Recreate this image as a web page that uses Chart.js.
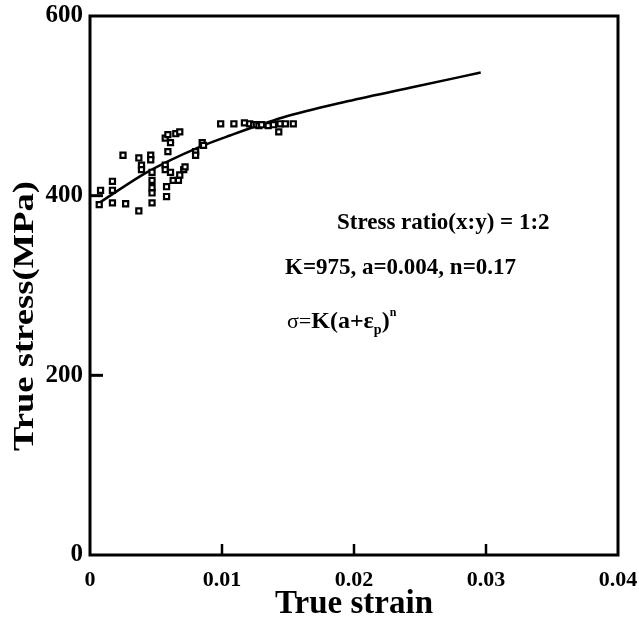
<!DOCTYPE html>
<html>
<head>
<meta charset="utf-8">
<script src="https://cdn.jsdelivr.net/npm/chart.js@4/dist/chart.umd.min.js"></script>
<style>
  html, body { margin: 0; padding: 0; background: #fff; }
  #wrap { width: 639px; height: 624px; }
</style>
</head>
<body>
<div id="wrap"><canvas id="flowChart" width="639" height="624"></canvas></div>
<script>
// measured points (true strain / true stress, MPa)
const strainPts = [
    0.0007, 0.0008, 0.0017, 0.0017, 0.0017, 0.0025, 0.0027, 0.0037, 0.0037, 0.0039,
    0.0039, 0.0046, 0.0046, 0.0047, 0.0047, 0.0047, 0.0047, 0.0047, 0.0057, 0.0057,
    0.0058, 0.0058, 0.0057, 0.0059, 0.0061, 0.0059, 0.0065, 0.0068, 0.0061, 0.0063,
    0.0067, 0.0068, 0.0071, 0.0072, 0.0080, 0.0080, 0.0085, 0.0086, 0.0099, 0.0109,
    0.0117, 0.0121, 0.0124, 0.0126, 0.0128, 0.0130, 0.0135, 0.0139, 0.0143, 0.0144,
    0.0148, 0.0154
];
const stressPts = [
    390, 406, 416, 406, 392, 445, 391, 383, 442, 434,
    429, 445, 440, 426, 417, 409, 403, 392, 434, 429,
    410, 399, 464, 468, 459, 449, 469, 471, 426, 417,
    417, 423, 429, 432, 449, 445, 459, 456, 480, 480,
    481, 480, 479, 479, 478, 479, 478, 479, 471, 480,
    480, 480
];

// fitted hardening curve, sigma = K(a + eps_p)^n
const strainFit = [0.0007, 0.0043, 0.0081, 0.0106, 0.0146, 0.0195, 0.0245, 0.0296];
const stressFit = [392, 426, 453, 467, 487, 505, 521, 537];

const strainTicks = [0, 0.01, 0.02, 0.03, 0.04];
const stressTicks = [0, 200, 400, 600];

const serif = "'Liberation Serif', 'Times New Roman', serif";

// frame, inward tick marks, y title and the fit parameters
const framePlugin = {
    id: "frame",
    afterDatasetsDraw(chart) {
        const { ctx, chartArea: a, scales } = chart;
        ctx.save();
        ctx.strokeStyle = "#000";
        ctx.lineWidth = 3;
        ctx.strokeRect(a.left, a.top, a.right - a.left, a.bottom - a.top);

        ctx.lineWidth = 3;
        stressTicks.slice(1, -1).forEach(v => {
            const y = scales.y.getPixelForValue(v);
            ctx.beginPath();
            ctx.moveTo(a.left, y);
            ctx.lineTo(a.left + 13, y);
            ctx.stroke();
        });
        ctx.lineWidth = 2.5;
        strainTicks.slice(1, -1).forEach(v => {
            const x = scales.x.getPixelForValue(v);
            ctx.beginPath();
            ctx.moveTo(x, a.bottom);
            ctx.lineTo(x, a.bottom - 11);
            ctx.stroke();
        });

        ctx.fillStyle = "#000";
        ctx.textBaseline = "middle";

        // y axis title, a little stretched along its length
        ctx.save();
        ctx.translate(25, a.top + 300);
        ctx.rotate(-Math.PI / 2);
        ctx.scale(1.22, 1);
        ctx.textAlign = "center";
        ctx.font = "bold 30px " + serif;
        ctx.fillText("True stress(MPa)", 0, 0);
        ctx.restore();

        ctx.textAlign = "left";
        ctx.font = "bold 23px " + serif;
        ctx.fillText("Stress ratio(x:y) = 1:2", a.left + 247, a.top + 207);
        ctx.fillText("K=975, a=0.004, n=0.17", a.left + 195, a.top + 252);

        // sigma = K(a + eps_p)^n with sub/superscripts
        let x = a.left + 197;
        const y = a.top + 306;
        const put = (txt, font, dy) => {
            ctx.font = font;
            ctx.fillText(txt, x, y + dy);
            x += ctx.measureText(txt).width;
        };
        put("σ=", "22px " + serif, 0);
        put("K(a+ε", "bold 24px " + serif, 0);
        put("p", "bold 14px " + serif, 8);
        put(")", "bold 24px " + serif, 0);
        put("n", "bold 12px " + serif, -9);
        ctx.restore();
    }
};

new Chart(document.getElementById("flowChart"), {
    type: "scatter",
    data: {
        datasets: [
            {
                label: "Experiment",
                data: strainPts.map((s, i) => ({ x: s, y: stressPts[i] })),
                pointStyle: "rect",
                pointRadius: 3.6,
                borderWidth: 2.2,
                borderColor: "#000",
                backgroundColor: "#fff"
            },
            {
                label: "Fit",
                data: strainFit.map((s, i) => ({ x: s, y: stressFit[i] })),
                showLine: true,
                pointRadius: 0,
                borderColor: "#000",
                borderWidth: 2.5,
                cubicInterpolationMode: "monotone"
            }
        ]
    },
    options: {
        responsive: false,
        animation: false,
        layout: { padding: { top: 16, right: 21, bottom: 0, left: 0 } },
        plugins: {
            legend: { display: false },
            tooltip: { enabled: false }
        },
        scales: {
            x: {
                type: "linear",
                min: 0,
                max: 0.04,
                afterBuildTicks: s => { s.ticks = strainTicks.map(v => ({ value: v })); },
                afterFit: s => {
                    s.height = 69;
                    s.paddingLeft = 0;
                    s.paddingRight = 0;
                },
                grid: { display: false, drawTicks: false },
                border: { display: false },
                ticks: {
                    padding: 12,
                    color: "#000",
                    font: { family: serif, size: 22, weight: "bold" },
                    callback: v => String(v)
                },
                title: {
                    display: true,
                    text: "True strain",
                    color: "#000",
                    padding: { top: 0, bottom: 0 },
                    font: { family: serif, size: 33, weight: "bold" }
                }
            },
            y: {
                type: "linear",
                min: 0,
                max: 600,
                afterBuildTicks: s => { s.ticks = stressTicks.map(v => ({ value: v })); },
                afterFit: s => {
                    s.width = 90;
                    s.paddingTop = 0;
                    s.paddingBottom = 0;
                },
                grid: { display: false, drawTicks: false },
                border: { display: false },
                ticks: {
                    padding: 7,
                    color: "#000",
                    font: { family: serif, size: 25, weight: "bold" }
                }
            }
        }
    },
    plugins: [framePlugin]
});
</script>
</body>
</html>
